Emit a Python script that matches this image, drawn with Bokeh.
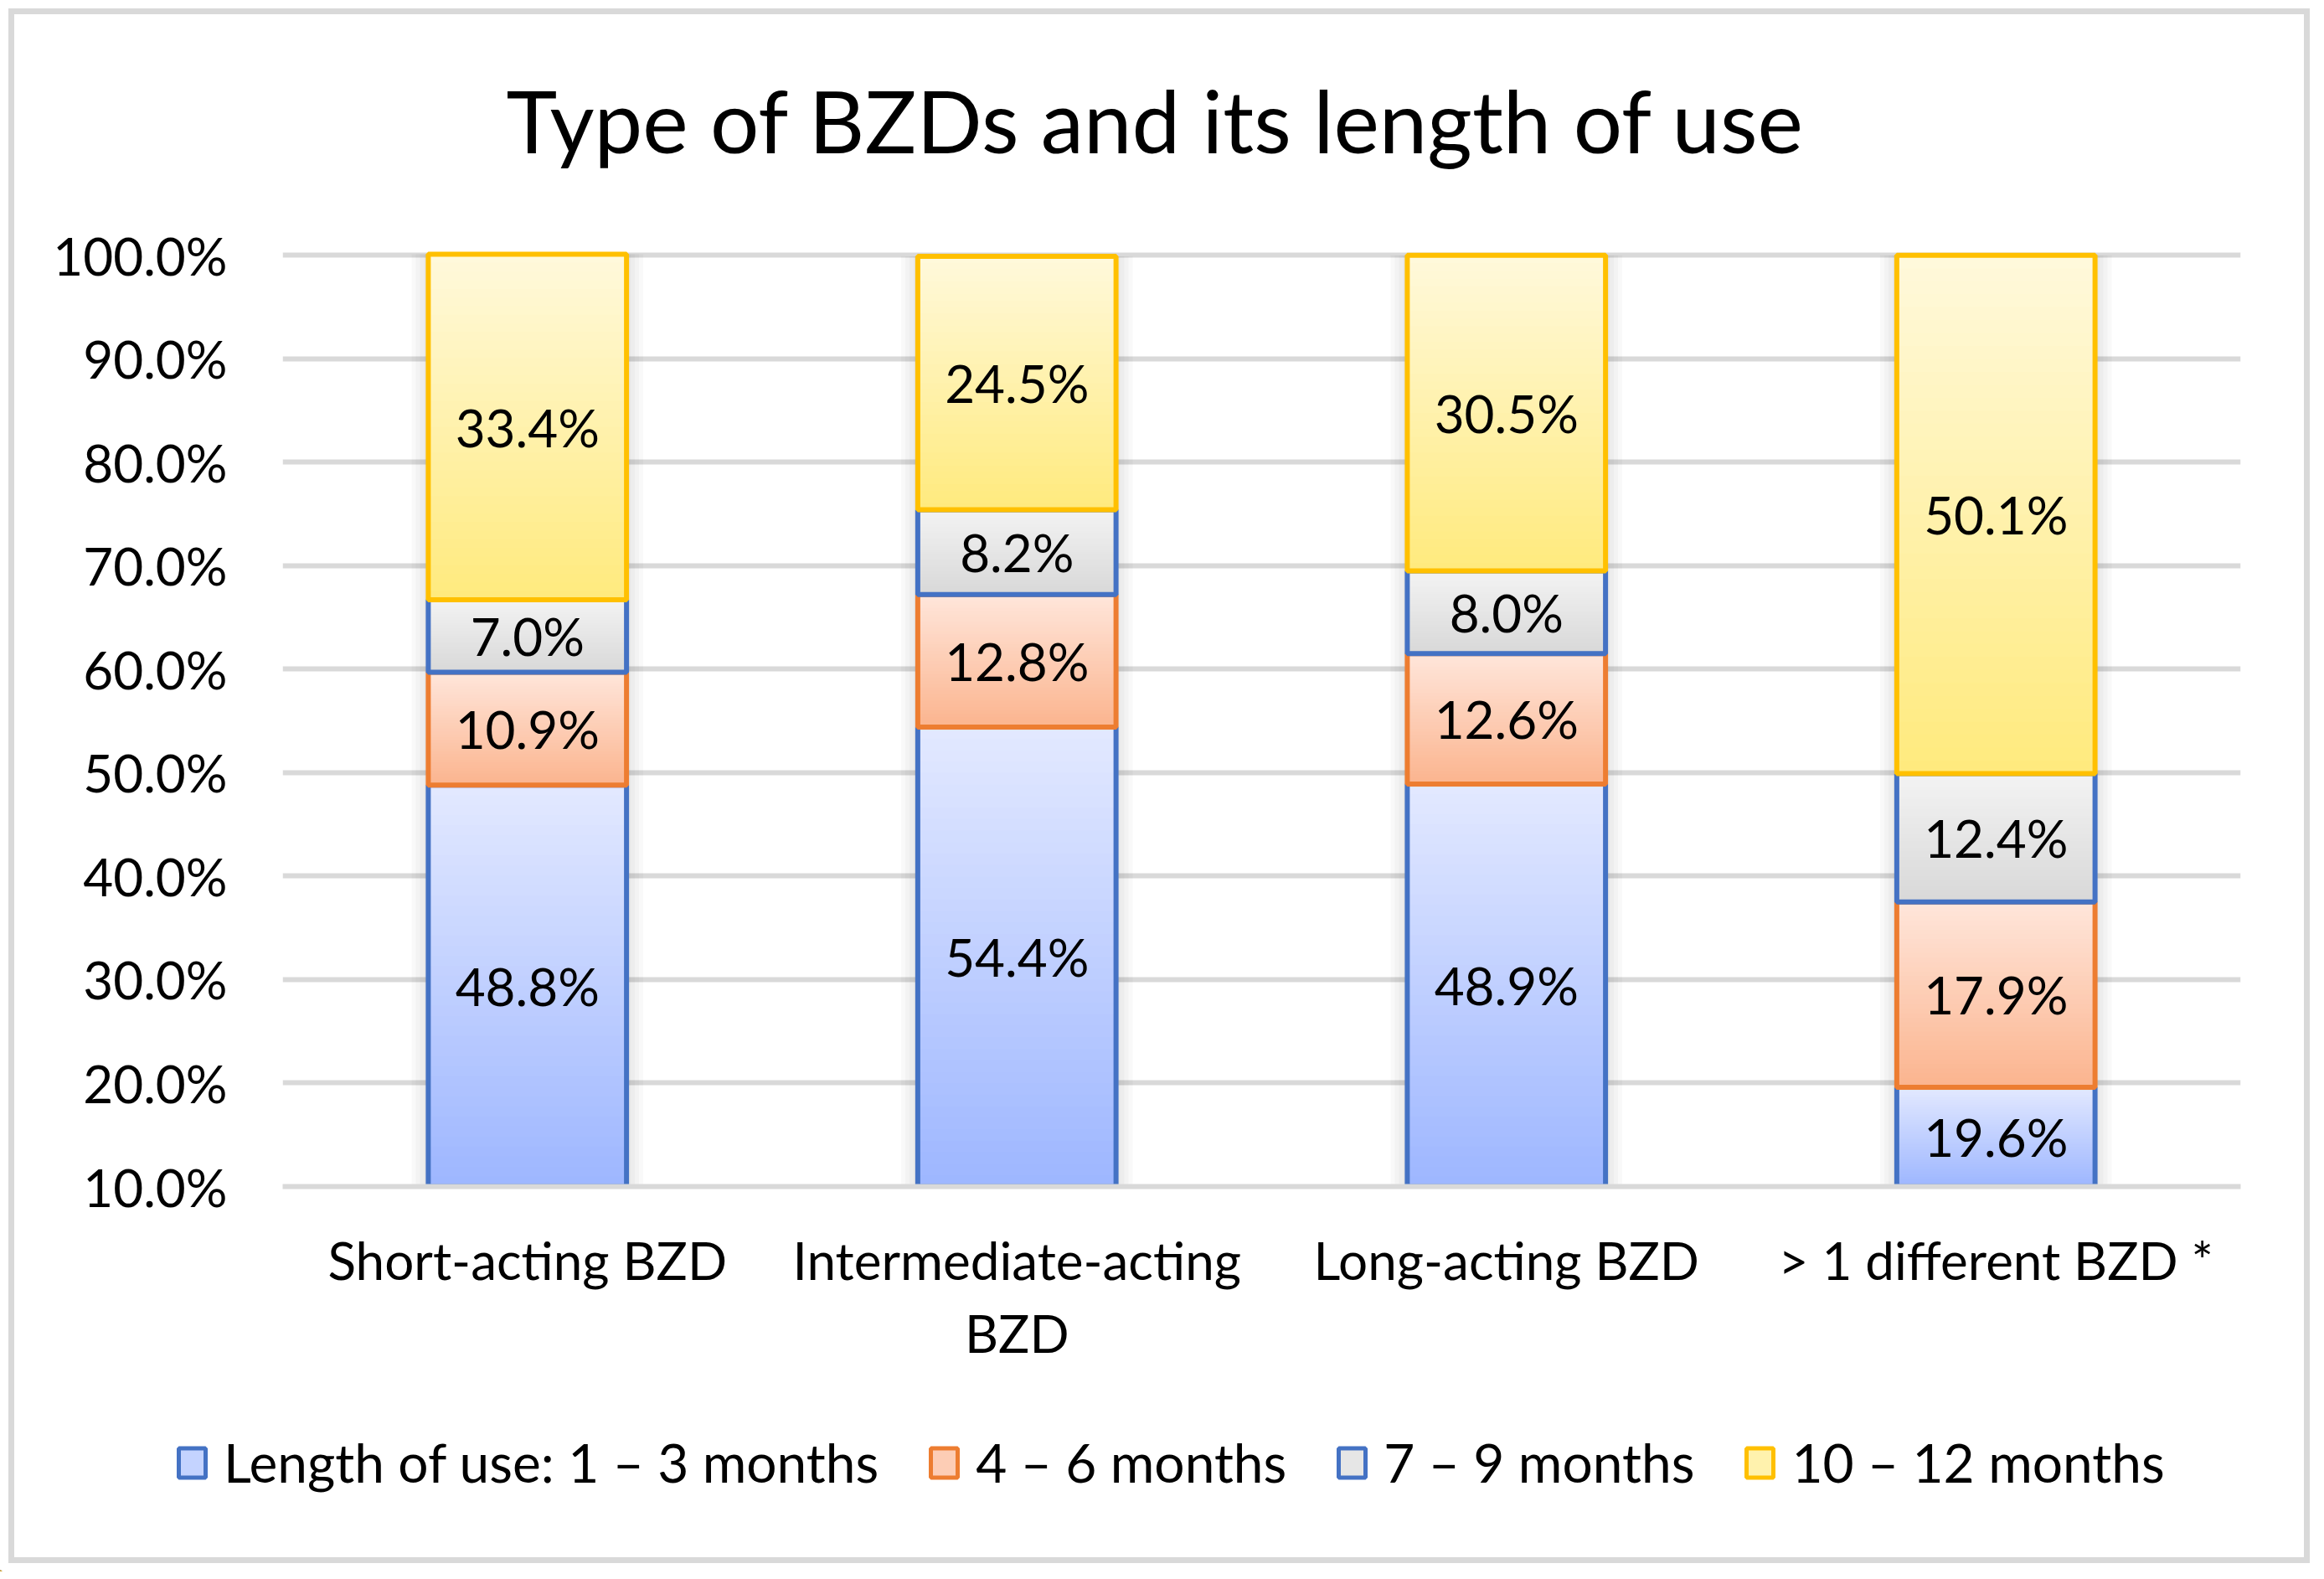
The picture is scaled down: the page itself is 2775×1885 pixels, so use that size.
from bokeh.plotting import figure
from bokeh.models import Range1d, FactorRange, PrintfTickFormatter, Legend, LegendItem, Title, FixedTicker
from bokeh.core.properties import value
from bokeh.embed import file_html
from bokeh.resources import INLINE
import numpy as np

# ---------------- data ----------------
chart_title = "Type of BZDs and its length of use"
categories = ["Short-acting BZD", "Intermediate-acting\nBZD", "Long-acting BZD", "> 1 different BZD *"]
series_names = ["Length of use: 1 \u2013 3 months", "4 \u2013 6 months", "7 \u2013 9 months", "10 \u2013 12 months"]
months_1_3 = [48.8, 54.4, 48.9, 19.6]
months_4_6 = [10.9, 12.8, 12.6, 17.9]
months_7_9 = [7.0, 8.2, 8.0, 12.4]
months_10_12 = [33.4, 24.5, 30.5, 50.1]
y_ticks = [10, 20, 30, 40, 50, 60, 70, 80, 90, 100]

# ---------------- styles ----------------
FONT = "Lato"
Y_MIN, Y_MAX = 10, 100.5
BAR_W = 0.405
BORDER = "#D9D9D9"
# (bottom colour, top colour, border colour, legend fill)
styles = [
    ("#9DB6FF", "#E3E9FF", "#4472C4", "#C4D3FF"),
    ("#FBB48E", "#FFE6DB", "#ED7D31", "#FDCDB5"),
    ("#D8D8D8", "#F3F3F3", "#4472C4", "#E6E6E6"),
    ("#FFEA7D", "#FFF9DC", "#FFC000", "#FFF2AD"),
]


def hex2rgb(h):
    h = h.lstrip("#")
    return np.array([int(h[i:i + 2], 16) for i in (0, 2, 4)], dtype=float)


def mix(c_bot, c_top, f):
    a, b = hex2rgb(c_bot), hex2rgb(c_top)
    c = a + (b - a) * f
    return "#%02x%02x%02x" % tuple(int(round(v)) for v in c)


def frame_lines(sizes, positions):
    g = "linear-gradient(%s, %s)" % (BORDER, BORDER)
    return {
        "background-image": ", ".join([g] * len(sizes)),
        "background-size": ", ".join(sizes),
        "background-position": ", ".join(positions),
        "background-repeat": "no-repeat",
    }


p = figure(
    x_range=FactorRange(*categories, range_padding=0),
    y_range=Range1d(Y_MIN, Y_MAX),
    width=2768, height=1660,
    output_backend="svg", toolbar_location=None, title=None,
    min_border_left=337, min_border_right=93, min_border_top=298, min_border_bottom=244,
)
p.styles = frame_lines(["2748px 7px", "7px 1650px", "7px 1650px"],
                       ["10px 10px", "10px 10px", "2751px 10px"])
p.outline_line_color = None
p.background_fill_color = "white"
p.border_fill_alpha = 0

# title (spacer first, then main title further out)
p.add_layout(Title(text=" ", text_font_size="38px", standoff=0), "above")
p.add_layout(Title(text=chart_title, align="left", offset=267, vertical_align="bottom", standoff=100,
                   text_font=FONT, text_font_size="103px", text_font_style="normal",
                   text_color="#000000"), "above")

# grid
p.xgrid.grid_line_color = None
p.ygrid.grid_line_color = "#D9D9D9"
p.ygrid.grid_line_width = 6

# y axis
p.yaxis.ticker = FixedTicker(ticks=y_ticks)
p.yaxis.formatter = PrintfTickFormatter(format="%.1f%%")
p.yaxis.axis_line_color = None
p.yaxis.major_tick_line_color = None
p.yaxis.minor_tick_line_color = None
p.yaxis.major_label_standoff = 60
p.yaxis.major_label_text_font = FONT
p.yaxis.major_label_text_font_size = "62px"
p.yaxis.major_label_text_color = "#000000"

# x axis
p.xaxis.axis_line_color = "#D9D9D9"
p.xaxis.axis_line_width = 6
p.xaxis.major_tick_line_color = None
p.xaxis.minor_tick_line_color = None
p.xaxis.major_label_standoff = 44
p.xaxis.major_label_orientation = "horizontal"
p.xaxis.major_label_text_font = FONT
p.xaxis.major_label_text_font_size = "62px"
p.xaxis.major_label_text_color = "#000000"
p.xaxis.major_label_text_line_height = 1.18

series = [months_1_3, months_4_6, months_7_9, months_10_12]
totals = np.sum(np.array(series), axis=0)

# soft shadow behind bars
for k in range(1, 5):
    p.vbar(x=categories, bottom=[Y_MIN] * len(categories), top=list(totals),
           width=BAR_W + 2 * k * 5 / 584.5, fill_color="black", fill_alpha=0.022, line_color=None)

N = 40
cum = np.zeros(len(categories))
lx, ly, lt = [], [], []
for si, vals in enumerate(series):
    c_bot, c_top, c_line, c_leg = styles[si]
    vals = np.array(vals, dtype=float)
    bottoms = cum.copy()
    tops = cum + vals
    xs, bs, ts, cols = [], [], [], []
    for ci, cat in enumerate(categories):
        vb = max(bottoms[ci], Y_MIN)
        for k in range(N):
            f0 = k / N
            f1 = min((k + 1.6) / N, 1.0)
            xs.append(cat)
            bs.append(vb + (tops[ci] - vb) * f0)
            ts.append(vb + (tops[ci] - vb) * f1)
            cols.append(mix(c_bot, c_top, (k + 0.5) / N))
        lx.append(cat)
        ly.append((vb + min(tops[ci], 100)) / 2)
        lt.append("%.1f%%" % vals[ci])
    p.vbar(x=xs, bottom=bs, top=ts, width=BAR_W, fill_color=cols, line_color=None)
    p.vbar(x=categories, bottom=list(bottoms), top=list(tops), width=BAR_W,
           fill_color=None, line_color=c_line, line_width=6)
    cum = tops

p.text(x=lx, y=ly, text=lt, text_font=value(FONT), text_font_size=value("62px"),
       text_align="center", text_baseline="middle", text_color="#000000")

# ---------------- legend strip (separate root, no frame alignment) ----------------
pl = figure(width=2768, height=216, output_backend="svg", toolbar_location=None,
            x_axis_type=None, y_axis_type=None, x_range=Range1d(0, 1), y_range=Range1d(0, 1),
            min_border_left=0, min_border_right=0, min_border_top=0, min_border_bottom=0)
pl.styles = frame_lines(["7px 206px", "7px 206px", "2748px 7px"],
                        ["10px 0px", "2751px 0px", "10px 199px"])
pl.outline_line_color = None
pl.background_fill_alpha = 0
pl.border_fill_alpha = 0
pl.grid.visible = False

legend_items = []
for si, name in enumerate(series_names):
    c_bot, c_top, c_line, c_leg = styles[si]
    r = pl.vbar(x=[-5], bottom=[-3], top=[-2], width=0.5,
                fill_color=c_leg, line_color=c_line, line_width=5)
    legend_items.append(LegendItem(label=name, renderers=[r]))

legend = Legend(items=legend_items, orientation="horizontal", location=(209, 92),
                glyph_width=40, glyph_height=44, label_standoff=18, spacing=58,
                padding=0, margin=0, border_line_color=None, background_fill_alpha=0,
                label_text_font=FONT, label_text_font_size="64px", label_height=44,
                label_text_color="#000000", label_text_baseline="alphabetic")
pl.add_layout(legend, "center")

open("out.html", "w").write(file_html([p, pl], INLINE))
